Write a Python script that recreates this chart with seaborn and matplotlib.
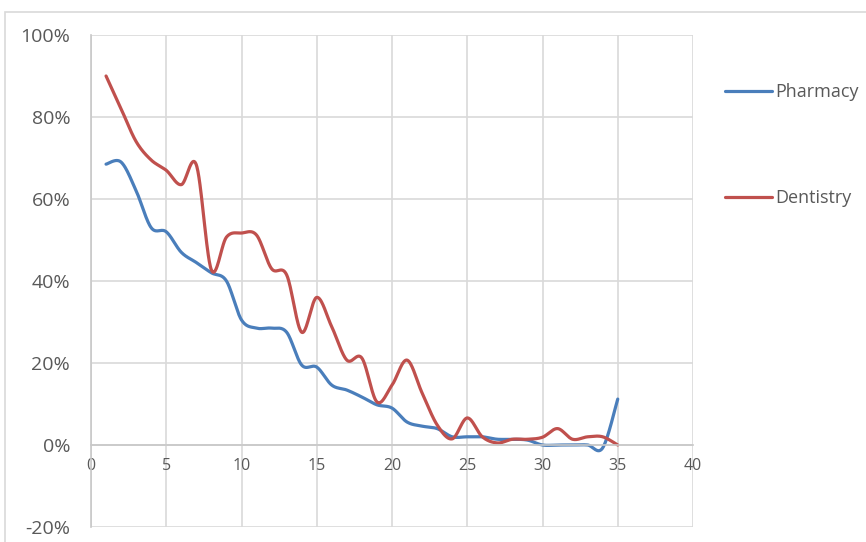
import numpy as np
import pandas as pd
import matplotlib
matplotlib.use("Agg")
import matplotlib.pyplot as plt
import matplotlib.ticker as mticker
from matplotlib.patches import Rectangle
import seaborn as sns

# values (percent)
years = list(range(1, 36))
pharmacy = [68.5, 69, 62, 53, 52, 47, 44.5, 42, 40, 30.5,
            28.5, 28.5, 27.5, 19.5, 19, 14.6, 13.4, 11.7, 9.8, 9,
            5.6, 4.6, 4, 2, 2, 2, 1.4, 1.4, 1.2, 0,
            0, 0, 0, -0.7, 11.2]
dentistry = [90, 82, 74, 69.5, 67, 63.5, 68.3, 42.7, 50.7, 51.7,
             51.2, 43, 41.5, 27.5, 36, 28.8, 20.7, 21.2, 10.5, 14.6,
             20.7, 12.7, 4.9, 1.5, 6.6, 2, 0.5, 1.4, 1.4, 1.9,
             4, 1.4, 2, 2, 0]
series_names = ["Pharmacy", "Dentistry"]
colors = {"Pharmacy": "#4a7ebb", "Dentistry": "#c0504d"}


def smooth(x, y, n=30):
    # Excel-style smoothed line (Catmull-Rom through the points)
    x = np.asarray(x, float)
    y = np.asarray(y, float)
    px = np.concatenate([[x[0]], x, [x[-1]]])
    py = np.concatenate([[y[0]], y, [y[-1]]])
    xs, ys = [], []
    t = np.linspace(0, 1, n)
    for i in range(1, len(px) - 2):
        p0 = np.array([px[i], py[i]])
        p3 = np.array([px[i + 1], py[i + 1]])
        c1 = p0 + (np.array([px[i + 1], py[i + 1]]) - np.array([px[i - 1], py[i - 1]])) / 6
        c2 = p3 - (np.array([px[i + 2], py[i + 2]]) - p0) / 6
        b = ((1 - t) ** 3)[:, None] * p0 + (3 * (1 - t) ** 2 * t)[:, None] * c1 \
            + (3 * (1 - t) * t ** 2)[:, None] * c2 + (t ** 3)[:, None] * p3
        xs.extend(b[:, 0])
        ys.extend(b[:, 1])
    return xs, ys


frames = []
for name, vals in zip(series_names, [pharmacy, dentistry]):
    sx, sy = smooth(years, vals)
    frames.append(pd.DataFrame({"x": sx, "y": sy, "series": name, "order": range(len(sx))}))
df = pd.concat(frames, ignore_index=True)

sns.set_theme(style="white")
plt.rcParams['font.family'] = ['Open Sans', 'DejaVu Sans']

fig = plt.figure(figsize=(8.66, 5.42), dpi=100)
ax = fig.add_axes([91 / 866, 1 - 527 / 542, (693 - 91) / 866, (527 - 35) / 542])

# outer chart border
fig.patches.append(Rectangle((5 / 866, -0.1), 1.2, 1 - 12 / 542 + 0.1, transform=fig.transFigure,
                             fill=False, edgecolor="#d9d9d9", linewidth=1.2, zorder=0))

sns.lineplot(data=df, x="x", y="y", hue="series", units="series", estimator=None, sort=False,
             palette=colors, linewidth=2.3, ax=ax, legend=False)

ax.set_xlim(0, 40)
ax.set_ylim(-20, 100)
ax.set_xticks(range(0, 41, 5))
ax.set_yticks(range(-20, 101, 20))
ax.yaxis.set_major_formatter(mticker.FuncFormatter(lambda v, p: f"{int(v)}%"))
ax.grid(True, color="#d9d9d9", linewidth=1.2)
ax.set_axisbelow(True)
for s in ["top", "right"]:
    ax.spines[s].set_visible(False)
ax.spines["bottom"].set_position(("data", 0))
ax.spines["bottom"].set_color("#c8c8c8")
ax.spines["left"].set_color("#c8c8c8")
ax.spines["bottom"].set_linewidth(1.2)
ax.spines["left"].set_linewidth(1.2)
ax.tick_params(axis="both", length=0, colors="#595959")
ax.tick_params(axis="x", labelsize=11.5, pad=9)
ax.tick_params(axis="y", labelsize=14, pad=15)
ax.set_xlabel("")
ax.set_ylabel("")

handles = [plt.Line2D([], [], color=colors[n], lw=2.3) for n in series_names]
leg = fig.legend(handles, series_names, loc="upper left", bbox_to_anchor=(725 / 866, 1 - 83 / 542),
                 frameon=False, fontsize=13, labelspacing=4.9, handlelength=2.6, handletextpad=0.2,
                 borderpad=0, borderaxespad=0)
for t in leg.get_texts():
    t.set_color("#595959")

fig.savefig("out.png", dpi=100)
